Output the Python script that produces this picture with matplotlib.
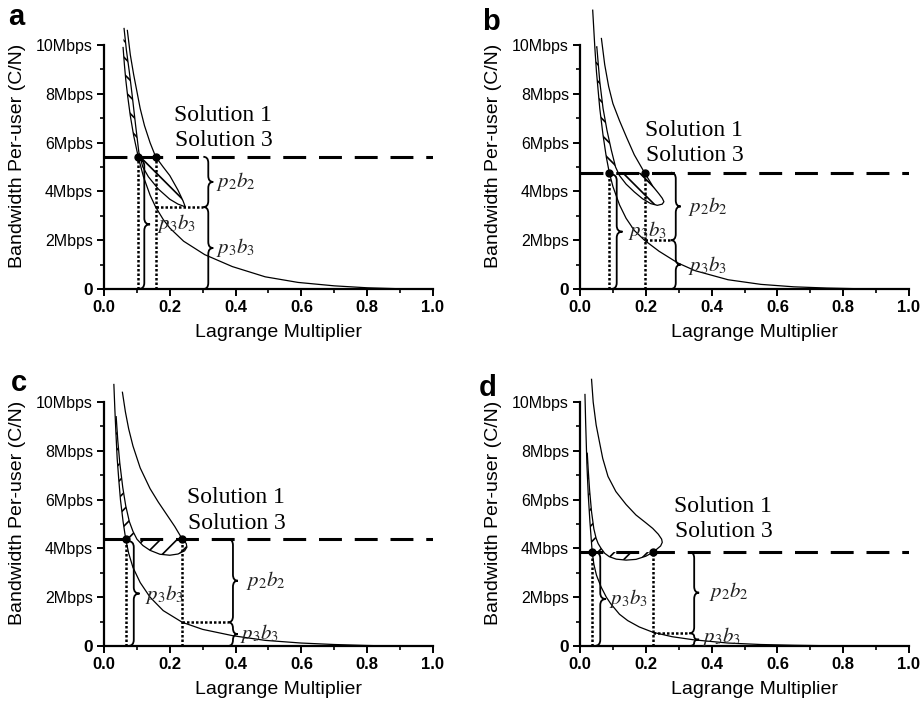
import matplotlib
matplotlib.use("Agg")
import matplotlib.pyplot as plt
import numpy as np
from matplotlib.path import Path
from matplotlib.patches import PathPatch, Polygon
from matplotlib.ticker import FixedLocator

plt.rcParams['font.family'] = ['Liberation Sans', 'DejaVu Sans']
plt.rcParams['mathtext.fontset'] = 'stix'
plt.rcParams['hatch.linewidth'] = 1.2

# ---------------- data ----------------
xtick_values = [0.0, 0.2, 0.4, 0.6, 0.8, 1.0]
xtick_labels = ['0.0', '0.2', '0.4', '0.6', '0.8', '1.0']
xminor_values = [0.1, 0.3, 0.5, 0.7, 0.9]
ytick_values = [0, 2, 4, 6, 8, 10]
ytick_labels = ['0', '2Mbps', '4Mbps', '6Mpbs', '8Mbps', '10Mbps']
yminor_values = [1, 3, 5, 7, 9]
panel_letters = ['a', 'b', 'c', 'd']
x_title = 'Lagrange Multiplier'
y_title = 'Bandwidth Per-user (C/N)'
solution_lines = ['Solution 1', 'Solution 3']

# panel a
a_L_x = [0.058, 0.062, 0.066, 0.072, 0.080, 0.090, 0.104, 0.120, 0.140, 0.157, 0.180, 0.200,
         0.242, 0.306, 0.390, 0.490, 0.590, 0.700, 0.800, 0.900, 0.960]
a_L_y = [9.90, 9.20, 8.60, 7.90, 7.10, 6.30, 5.42, 4.60, 3.85, 3.36, 2.85, 2.50,
         1.96, 1.41, 0.92, 0.50, 0.27, 0.13, 0.05, 0.01, 0.0]
a_U_x = [0.071, 0.080, 0.090, 0.100, 0.110, 0.123, 0.140, 0.157, 0.180, 0.200, 0.225, 0.240, 0.247,
         0.225, 0.200, 0.165, 0.135, 0.118, 0.106, 0.096, 0.086, 0.077, 0.068, 0.061]
a_U_y = [10.60, 9.60, 8.80, 8.10, 7.40, 6.70, 6.00, 5.42, 5.00, 4.65, 4.05, 3.62, 3.37,
         3.48, 3.68, 4.10, 4.60, 5.00, 5.60, 6.72, 7.90, 8.90, 9.80, 10.68]
a_level = 5.42
a_dot_x = [0.104, 0.157]
a_split = 3.36

# panel b
b_L_x = [0.0385, 0.045, 0.050, 0.060, 0.070, 0.080, 0.089, 0.100, 0.120, 0.140, 0.165, 0.196,
         0.240, 0.297, 0.350, 0.450, 0.550, 0.650, 0.750, 0.850, 0.920]
b_L_y = [11.43, 9.90, 8.90, 7.40, 6.30, 5.40, 4.77, 4.20, 3.45, 2.90, 2.40, 2.00,
         1.55, 1.07, 0.75, 0.38, 0.19, 0.09, 0.04, 0.01, 0.0]
b_U_x = [0.065, 0.075, 0.087, 0.100, 0.120, 0.142, 0.165, 0.196, 0.221, 0.240, 0.250, 0.255,
         0.250, 0.235, 0.215, 0.190, 0.165, 0.140, 0.120, 0.108, 0.095, 0.082, 0.070, 0.060, 0.051]
b_U_y = [10.27, 9.20, 8.30, 7.60, 6.90, 6.20, 5.50, 4.77, 4.22, 3.90, 3.72, 3.58,
         3.48, 3.43, 3.50, 3.70, 3.98, 4.30, 4.65, 5.00, 5.70, 6.50, 7.40, 8.50, 9.93]
b_level = 4.77
b_dot_x = [0.089, 0.196]
b_split = 2.00

# panel c
c_L_x = [0.030, 0.033, 0.036, 0.040, 0.045, 0.050, 0.058, 0.066, 0.075, 0.088, 0.110, 0.140,
         0.180, 0.238, 0.300, 0.392, 0.490, 0.600, 0.700, 0.800, 0.870]
c_L_y = [10.72, 9.70, 8.80, 7.70, 6.80, 6.00, 5.10, 4.38, 3.80, 3.22, 2.60, 2.00,
         1.45, 0.97, 0.68, 0.42, 0.23, 0.12, 0.06, 0.02, 0.0]
c_U_x = [0.056, 0.065, 0.075, 0.088, 0.110, 0.140, 0.165, 0.190, 0.215, 0.238, 0.250, 0.252,
         0.245, 0.225, 0.200, 0.170, 0.140, 0.118, 0.100, 0.088, 0.077, 0.066, 0.057, 0.048, 0.042, 0.037]
c_U_y = [10.40, 9.60, 8.90, 8.20, 7.30, 6.45, 5.90, 5.40, 4.90, 4.38, 4.20, 4.05,
         3.90, 3.77, 3.72, 3.76, 3.92, 4.12, 4.38, 4.70, 5.10, 5.75, 6.50, 7.50, 8.40, 9.40]
c_level = 4.38
c_dot_x = [0.066, 0.238]
c_split = 0.97

# panel d
d_L_x = [0.015, 0.017, 0.019, 0.021, 0.025, 0.030, 0.037, 0.042, 0.050, 0.064, 0.080, 0.094,
         0.120, 0.145, 0.180, 0.222, 0.280, 0.347, 0.450, 0.550, 0.650, 0.800]
d_L_y = [10.31, 9.20, 8.30, 7.40, 6.20, 5.10, 3.85, 3.35, 2.90, 2.42, 2.00, 1.72,
         1.30, 1.04, 0.78, 0.56, 0.38, 0.25, 0.12, 0.06, 0.03, 0.0]
d_U_x = [0.035, 0.040, 0.049, 0.060, 0.069, 0.085, 0.109, 0.140, 0.170, 0.200, 0.221, 0.238, 0.248,
         0.250, 0.245, 0.236, 0.223, 0.200, 0.170, 0.140, 0.110, 0.089, 0.075, 0.064, 0.055,
         0.049, 0.042, 0.035, 0.029, 0.025, 0.022]
d_U_y = [10.93, 10.00, 9.06, 8.30, 7.69, 6.95, 6.33, 5.80, 5.37, 5.05, 4.82, 4.58, 4.38,
         4.25, 4.10, 4.00, 3.85, 3.68, 3.55, 3.52, 3.56, 3.66, 3.80, 4.00, 4.20,
         4.41, 4.80, 5.50, 6.40, 7.20, 7.90]
d_level = 3.85
d_dot_x = [0.037, 0.223]
d_split = 0.52

# ---------------- layout / annotation placement ----------------
axes_rects = [[0.1128, 0.5883, 0.3568, 0.4031], [0.6291, 0.5883, 0.3568, 0.4031],
              [0.1128, 0.0798, 0.3568, 0.4031], [0.6291, 0.0798, 0.3568, 0.4031]]
letter_pos = [(8, 25), (482, 30), (11, 391), (479, 396)]
sol_pos = [[(0.212, 6.90), (0.217, 5.87)], [(0.198, 6.28), (0.202, 5.23)],
           [(0.252, 5.85), (0.256, 4.79)], [(0.287, 5.51), (0.289, 4.45)]]
left_brace = [(0.105, 0.0, 5.30), (0.094, 0.0, 4.70), (0.073, 0.0, 4.30), (0.044, 0.0, 3.85)]
right_brace_x = [0.302, 0.276, 0.377, 0.332]
lbl_left = [(0.160, 2.70), (0.145, 2.40), (0.124, 2.10), (0.089, 1.95)]
lbl_p2 = [(0.340, 4.40), (0.327, 3.40), (0.433, 2.70), (0.393, 2.25)]
lbl_p3 = [(0.340, 1.70), (0.327, 0.95), (0.412, 0.50), (0.372, 0.40)]
hatches = ['\\\\', '\\\\', '//', '//']

panels = [
    (a_L_x, a_L_y, a_U_x, a_U_y, a_level, a_dot_x, a_split),
    (b_L_x, b_L_y, b_U_x, b_U_y, b_level, b_dot_x, b_split),
    (c_L_x, c_L_y, c_U_x, c_U_y, c_level, c_dot_x, c_split),
    (d_L_x, d_L_y, d_U_x, d_U_y, d_level, d_dot_x, d_split),
]

FW, FH = 9.22, 7.02
fig = plt.figure(figsize=(FW, FH), dpi=100)


def draw_brace(ax, x0, y0, y1, w):
    h = y1 - y0
    r = min(0.25, h / 4.0)
    xm = x0 + w / 2.0
    ym = (y0 + y1) / 2.0
    verts = [(x0, y0), (xm, y0), (xm, y0 + r), (xm, ym - r), (xm, ym), (x0 + w, ym),
             (xm, ym), (xm, ym + r), (xm, y1 - r), (xm, y1), (x0, y1)]
    codes = [Path.MOVETO, Path.CURVE3, Path.CURVE3, Path.LINETO, Path.CURVE3, Path.CURVE3,
             Path.CURVE3, Path.CURVE3, Path.LINETO, Path.CURVE3, Path.CURVE3]
    ax.add_patch(PathPatch(Path(verts, codes), facecolor='none', edgecolor='black', lw=1.3))


def hatch_points(Lx, Ly, Ux, Uy, left_x, right_x, level):
    Lx, Ly, Ux, Uy = map(np.asarray, (Lx, Ly, Ux, Uy))
    iu = int(np.argmin(np.hypot((Ux - right_x) * 20, Uy - level)))
    il = int(np.argmin(np.hypot((Lx - left_x) * 20, Ly - level)))
    pts = list(zip(Ux[iu:], Uy[iu:]))
    top = Uy[-1]
    pts += [(x, y) for x, y in zip(Lx[:il + 1], Ly[:il + 1]) if y <= top + 1e-9]
    return pts


for i, (Lx, Ly, Ux, Uy, level, dots, split) in enumerate(panels):
    ax = fig.add_axes(axes_rects[i])
    ax.set_xlim(0, 1.0)
    ax.set_ylim(0, 11.6)
    for s in ['top', 'right']:
        ax.spines[s].set_visible(False)
    ax.spines['left'].set_bounds(0, 10)
    ax.spines['bottom'].set_bounds(0, 1)
    ax.spines['left'].set_linewidth(1.6)
    ax.spines['bottom'].set_linewidth(1.6)
    ax.set_xticks(xtick_values)
    ax.set_xticklabels(xtick_labels, fontsize=12, fontweight='bold')
    ax.set_yticks(ytick_values)
    ax.set_yticklabels(ytick_labels, fontsize=11.5)
    ax.get_yticklabels()[0].set_fontweight('bold')
    ax.get_yticklabels()[0].set_fontsize(12.5)
    ax.xaxis.set_minor_locator(FixedLocator(xminor_values))
    ax.yaxis.set_minor_locator(FixedLocator(yminor_values))
    ax.tick_params(which='major', direction='out', length=5, width=1.4, pad=3)
    ax.tick_params(which='minor', direction='out', length=3, width=1.2)
    ax.set_xlabel(x_title, fontsize=14)
    ax.set_ylabel(y_title, fontsize=14)
    ax.xaxis.set_label_coords(0.53, -0.125)
    ax.yaxis.set_label_coords(-0.238, 0.47)

    # hatched region
    pts = hatch_points(Lx, Ly, Ux, Uy, dots[0], dots[1], level)
    ax.add_patch(Polygon(pts, closed=True, facecolor='none', edgecolor='black', lw=0,
                         hatch=hatches[i]))

    # curves
    ax.plot(Lx, Ly, color='black', lw=0.9, solid_joinstyle='round')
    ax.plot(Ux, Uy, color='black', lw=0.9, solid_joinstyle='round')

    # dashed level line
    ax.plot([0, 1.0], [level, level], color='black', lw=2.2, dashes=(7.5, 4.2))

    # dotted guides
    ax.plot([dots[0], dots[0]], [0, level], color='black', lw=1.8, ls=(0, (1, 0.8)))
    ax.plot([dots[1], dots[1]], [0, level], color='black', lw=1.8, ls=(0, (1, 0.8)))
    ax.plot([dots[1], right_brace_x[i]], [split, split], color='black', lw=1.8, ls=(0, (1, 0.8)))
    ax.plot(dots, [level, level], 'o', color='black', ms=5)

    # braces
    lb = left_brace[i]
    draw_brace(ax, lb[0], lb[1], lb[2], 0.035)
    draw_brace(ax, right_brace_x[i], split, level, 0.03)
    draw_brace(ax, right_brace_x[i], 0.0, split, 0.03)

    lab_kw = dict(fontsize=15, va='center', ha='left', color='#222222')
    ax.text(lbl_left[i][0], lbl_left[i][1], r'$p_3b_3$', **lab_kw)
    ax.text(lbl_p2[i][0], lbl_p2[i][1], r'$p_2b_2$', **lab_kw)
    ax.text(lbl_p3[i][0], lbl_p3[i][1], r'$p_3b_3$', **lab_kw)

    for (sx, sy), s in zip(sol_pos[i], solution_lines):
        ax.text(sx, sy, s, fontsize=17, family='Liberation Serif', ha='left', va='baseline')

    lx, ly = letter_pos[i]
    fig.text(lx / 922.0, 1 - ly / 702.0, panel_letters[i], fontsize=21, fontweight='bold',
             ha='left', va='baseline')

fig.savefig('out.png', dpi=100)
